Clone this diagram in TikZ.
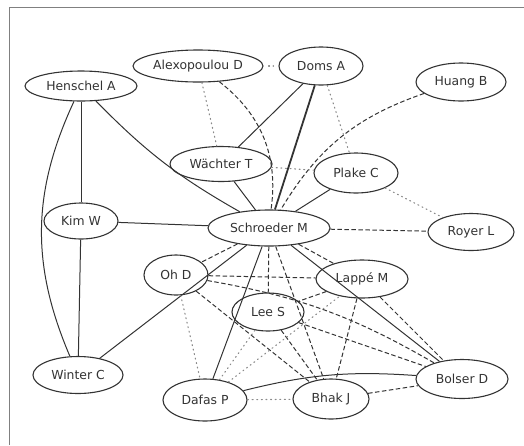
\documentclass[tikz,border=0pt]{standalone}
\usepackage{fontspec}
\setmainfont{DejaVu Sans}
\usetikzlibrary{shapes.geometric}
\definecolor{ln}{HTML}{333333}
\definecolor{dt}{HTML}{8A8A8A}
\tikzset{
  nd/.style={ellipse, draw=ln, line width=1.1pt, inner sep=0pt, text=ln,
    font=\fontsize{12.4}{14}\selectfont},
  sol/.style={draw=ln, line width=1pt},
  dsh/.style={draw=ln, line width=1pt, dash pattern=on 4.5pt off 2.5pt},
  dot/.style={draw=dt, line width=1.1pt, dash pattern=on 1pt off 3.6pt, line cap=round},
}
\begin{document}
\begin{tikzpicture}[x=1pt,y=-1pt]
\useasboundingbox (0,0) rectangle (524,445);
\draw[gray, line width=0.8pt] (9,445) coordinate (fa) -- (9,7) coordinate (fb) -- (524,7) coordinate (fc);

\node[nd, minimum width=112pt, minimum height=30pt] (hen) at (81,86) {Henschel A};
\node[nd, minimum width=130pt, minimum height=32pt] (alex) at (198,66) {Alexopoulou D};
\node[nd, minimum width=84pt, minimum height=38pt] (doms) at (321,66) {Doms A};
\node[nd, minimum width=90pt, minimum height=38pt] (huang) at (461,82) {Huang B};
\node[nd, minimum width=102pt, minimum height=35pt] (waech) at (221,164) {Wächter T};
\node[nd, minimum width=84pt, minimum height=40pt] (plake) at (356,173) {Plake C};
\node[nd, minimum width=74pt, minimum height=36pt] (kim) at (81,221) {Kim W};
\node[nd, minimum width=122pt, minimum height=36pt] (schr) at (269,228) {Schroeder M};
\node[nd, minimum width=86pt, minimum height=37pt] (royer) at (471,232) {Royer L};
\node[nd, minimum width=64pt, minimum height=40pt] (ohd) at (176,275) {Oh D};
\node[nd, minimum width=92pt, minimum height=38pt] (lappe) at (362,279) {Lappé M};
\node[nd, minimum width=72pt, minimum height=38pt] (lee) at (268,312) {Lee S};
\node[nd, minimum width=90pt, minimum height=37pt] (winter) at (78,375) {Winter C};
\node[nd, minimum width=84pt, minimum height=42pt] (dafas) at (205,400) {Dafas P};
\node[nd, minimum width=76pt, minimum height=40pt] (bhak) at (331,399) {Bhak J};
\node[nd, minimum width=92pt, minimum height=39pt] (bolser) at (462,379) {Bolser D};

% solid
\draw[sol] (hen) -- (kim);
\draw[sol] (hen) to[bend right=24] (winter);
\draw[sol] (kim) -- (winter);
\draw[sol] (hen) to[bend right=8] (schr);
\draw[sol] (kim) -- (schr);
\draw[sol] (doms) -- (waech);
\draw[draw=ln, line width=1.8pt] (doms) -- (schr);
\draw[sol] (waech) -- (schr);
\draw[sol] (plake) -- (schr);
\draw[sol] (schr) -- (winter);
\draw[sol] (schr) -- (dafas);
\draw[sol] (schr) -- (bolser);
\draw[sol] (dafas) to[bend left=9] (bolser);

% dashed
\draw[dsh] (alex) to[bend left=30] (schr);
\draw[dsh] (huang) to[bend right=20] (schr);
\draw[dsh] (schr) -- (royer);
\draw[dsh] (schr) -- (ohd);
\draw[dsh] (schr) -- (lee);
\draw[dsh] (schr) -- (lappe);
\draw[dsh] (schr) -- (bhak);
\draw[dsh] (ohd) -- (lappe);
\draw[dsh] (ohd) to[bend left=10] (bolser);
\draw[dsh] (ohd) -- (bhak);
\draw[dsh] (lee) -- (bhak);
\draw[dsh] (lee) -- (bolser);
\draw[dsh] (lappe) -- (lee);
\draw[dsh] (lappe) -- (bhak);
\draw[dsh] (lappe) -- (bolser);
\draw[dsh] (bhak) -- (bolser);

% dotted
\draw[dot, shorten <=5pt, shorten >=5pt] (alex) -- (doms);
\draw[dot] (alex) -- (waech);
\draw[dot] (doms) -- (plake);
\draw[dot] (waech) -- (plake);
\draw[dot] (plake) -- (royer);
\draw[dot] (ohd) -- (dafas);
\draw[dot] (dafas) -- (lee);
\draw[dot] (dafas) -- (lappe);
\draw[dot] (dafas) -- (bhak);
\end{tikzpicture}
\end{document}
